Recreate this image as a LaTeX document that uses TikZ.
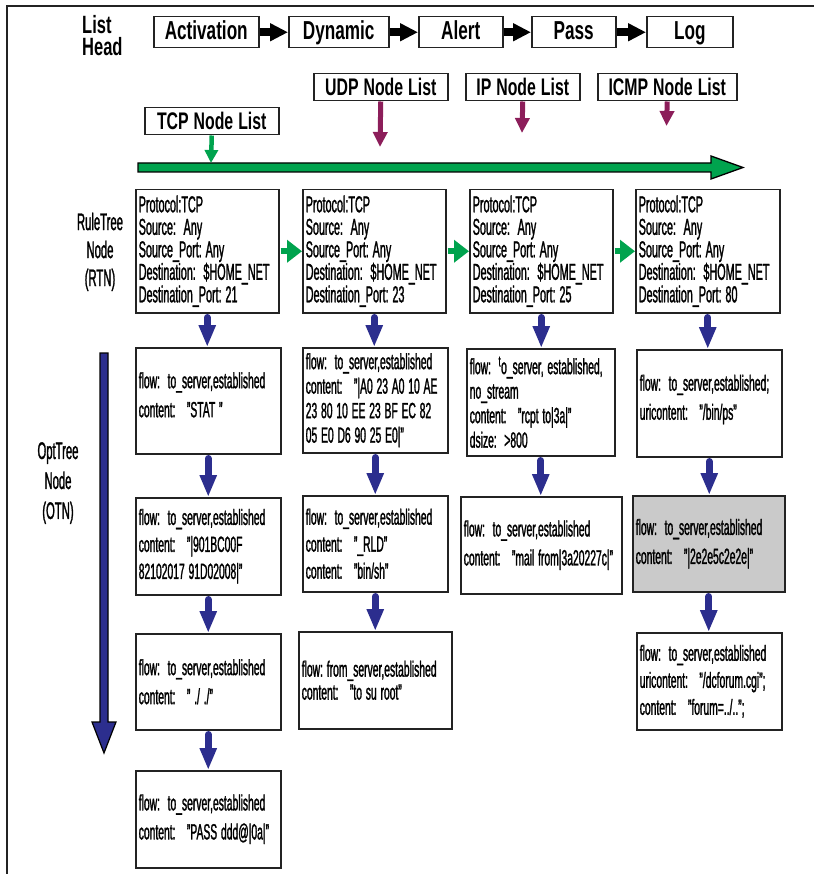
\documentclass[tikz,border=0pt]{standalone}
\usepackage{fontspec}
\setmainfont{Liberation Sans}[FakeStretch=0.47, FakeBold=1.2]
\newfontfamily\headfont{Liberation Sans}[FakeStretch=0.66]
\usetikzlibrary{arrows.meta}
\hyphenpenalty=10000
\exhyphenpenalty=10000
% condensed face with a fixed, narrow word space
\newcommand\rulefont[2]{\fontsize{#1}{#2}\selectfont\frenchspacing
  \fontdimen2\font=3.8pt\fontdimen3\font=0pt\fontdimen4\font=0pt}
\newcommand\keyfont[1]{\headfont\bfseries\fontsize{#1}{#1}\selectfont\frenchspacing
  \fontdimen2\font=5pt\fontdimen3\font=0pt\fontdimen4\font=0pt}
\definecolor{boxline}{RGB}{35,35,35}
\definecolor{rulegreen}{RGB}{0,163,78}
\definecolor{listplum}{RGB}{140,30,90}
\definecolor{treenavy}{RGB}{44,46,142}
\definecolor{hitgray}{RGB}{202,202,202}
\tikzset{
  frameline/.style={draw=boxline, line width=1.6pt},
  keybox/.style={draw=boxline, line width=1.5pt, fill=white, anchor=north west,
    inner sep=0pt, text height=19pt, text depth=4pt, font=\keyfont{26}},
  listbox/.style={draw=boxline, line width=1.5pt, fill=white, anchor=north west,
    inner sep=0pt, text height=17pt, text depth=0pt, font=\keyfont{24}},
  rtn/.style={draw=boxline, line width=1.5pt, fill=white, anchor=north west,
    inner xsep=3pt, inner ysep=0pt, align=flush left, font=\rulefont{23}{22.5}},
  otn/.style={rtn, font=\rulefont{22}{24.5}},
  otntwo/.style={otn, font=\rulefont{22}{29}},
  otnthree/.style={otn, font=\rulefont{22}{27}},
  sidelabel/.style={inner sep=0pt, align=center, anchor=north},
  headword/.style={inner sep=0pt, anchor=base west, font=\keyfont{25}},
  chain/.style={draw=black, line width=8pt, -{Triangle[length=18pt,width=17pt]}},
  feed/.style={draw=listplum, line width=5pt, -{Triangle[length=15pt,width=14pt]}},
  tcpfeed/.style={draw=rulegreen, line width=4.5pt, -{Triangle[length=13pt,width=13pt]}},
  rtnlink/.style={draw=rulegreen, line width=6pt, -{Triangle[length=15pt,width=22pt]}},
  optlink/.style={draw=treenavy, line width=7pt, line cap=round,
    -{Triangle[length=22pt,width=16pt]}},
}
\begin{document}
\begin{tikzpicture}[x=1pt,y=-1pt]
\useasboundingbox (0,0) rectangle (814,874);

% outer frame
\draw[frameline] (7,874) -- (7,6) -- (814,6);

% list head
\node[headword] (lword) at (82,34) {List};
\node[headword] (hword) at (82,56) {Head};
\node[keybox, minimum width=105pt, minimum height=31pt] (act) at (153,16) {Activation};
\node[keybox, minimum width=100pt, minimum height=31pt] (dyn) at (288,16) {Dynamic};
\node[keybox, minimum width=84pt, minimum height=31pt] (alr) at (418,16) {Alert};
\node[keybox, minimum width=84pt, minimum height=31pt] (pas) at (531,16) {Pass};
\node[keybox, minimum width=86pt, minimum height=31pt] (lg) at (646,16) {Log};
\draw[chain] (act.east) -- (dyn.west);
\draw[chain] (dyn.east) -- (alr.west);
\draw[chain] (alr.east) -- (pas.west);
\draw[chain] (pas.east) -- (lg.west);

% protocol node lists
\node[listbox, minimum width=134pt, minimum height=27pt] (udp) at (313,73) {UDP Node List};
\node[listbox, minimum width=114pt, minimum height=27pt] (ipl) at (465,73) {IP Node List};
\node[listbox, minimum width=139pt, minimum height=27pt] (icmp) at (597,73) {ICMP Node List};
\node[listbox, minimum width=134pt, minimum height=27pt] (tcp) at (144,107) {TCP Node List};
\coordinate (udpend) at (380,147);
\coordinate (ipend) at (522,133);
\coordinate (icmpend) at (666.5,126);
\draw[feed] (udp.south) -- (udpend);
\draw[feed] (ipl.south) -- (ipend);
\draw[feed] (icmp.south) -- (icmpend);

% the TCP rule chain
\draw[draw=black, line width=1.3pt, fill=rulegreen]
  (138,163) -- (711,163) -- (711,156) -- (743,167.5) -- (711,179) -- (711,172) -- (138,172) -- cycle;
\coordinate (bus) at (211,163);
\draw[tcpfeed] (tcp.south) -- (bus);

% rule tree nodes
\node[sidelabel, font=\rulefont{24}{28}] (rtnlbl) at (100,212.5) {RuleTree\\Node\\(RTN)};
\node[rtn, minimum width=143pt, text width=137pt, minimum height=123pt] (r1) at (135,189)
  {Protocol:TCP\\Source:\ \ Any\\Source\_Port: Any\\Destination:\ \ \$HOME\_NET\\Destination\_Port: 21};
\node[rtn, minimum width=143pt, text width=137pt, minimum height=123pt] (r2) at (302,189)
  {Protocol:TCP\\Source:\ \ Any\\Source\_Port: Any\\Destination:\ \ \$HOME\_NET\\Destination\_Port: 23};
\node[rtn, minimum width=143pt, text width=137pt, minimum height=123pt] (r3) at (469,189)
  {Protocol:TCP\\Source:\ \ Any\\Source\_Port: Any\\Destination:\ \ \$HOME\_NET\\Destination\_Port: 25};
\node[rtn, minimum width=144pt, text width=138pt, minimum height=123pt] (r4) at (635,189)
  {Protocol:TCP\\Source:\ \ Any\\Source\_Port: Any\\Destination:\ \ \$HOME\_NET\\Destination\_Port: 80};
\draw[rtnlink] ([xshift=1pt]r1.east) -- (r2.west);
\draw[rtnlink] ([xshift=1pt]r2.east) -- (r3.west);
\draw[rtnlink] ([xshift=1pt]r3.east) -- (r4.west);

% option tree nodes
\node[sidelabel, font=\rulefont{24}{30}] (otnlbl) at (58,442) {OptTree\\Node\\(OTN)};
\draw[draw=black, line width=1.2pt, fill=treenavy]
  (100,353) -- (108,353) -- (108,722) -- (116,722) -- (104,753) -- (92,722) -- (100,722) -- cycle;

\node[otntwo, minimum width=145pt, text width=139pt, minimum height=106pt, text depth=41pt] (o11) at (135,347)
  {flow:\ \ to\_server,established\\content:\ \ \ "STAT\ "};
\node[otnthree, minimum width=145pt, text width=139pt, minimum height=97pt] (o12) at (135,497)
  {flow:\ \ to\_server,established\\content:\ \ \ "|901BC00F\\82102017 91D02008|"};
\node[otntwo, minimum width=145pt, text width=139pt, minimum height=96pt] (o13) at (135,633)
  {flow:\ \ to\_server,established\\content:\ \ \ " ./ ./"};
\node[otntwo, minimum width=145pt, text width=139pt, minimum height=97pt] (o14) at (135,770)
  {flow:\ \ to\_server,established\\content:\ \ \ "PASS ddd@|0a|"};

\node[otn, minimum width=145pt, text width=139pt, minimum height=105pt] (o21) at (302,347)
  {flow:\ \ to\_server,established\\content:\ \ \ "|A0 23 A0 10 AE\\23 80 10 EE 23 BF EC 82\\05 E0 D6 90 25 E0|"};
\node[otnthree, minimum width=145pt, text width=139pt, minimum height=96pt] (o22) at (302,495)
  {flow:\ \ to\_server,established\\content:\ \ \ "\_RLD"\\content:\ \ \ "bin/sh"};
\node[otn, minimum width=153pt, text width=147pt, minimum height=97pt, font=\rulefont{22}{23}] (o23) at (298,631)
  {flow: from\_server,established\\content:\ \ \ "to su root"};

\node[otn, minimum width=148pt, text width=142pt, minimum height=107pt] (o31) at (466,348)
  {flow:\ \ \textsuperscript{t}o\_server, established,\\no\_stream\\content:\ \ \ "rcpt to|3a|"\\dsize:\ \ >800};
\node[otntwo, minimum width=161pt, text width=155pt, minimum height=97pt] (o32) at (460,496)
  {flow:\ \ to\_server,established\\content:\ \ \ "mail from|3a20227c|"};

\node[otntwo, minimum width=145pt, text width=139pt, minimum height=107pt, text depth=41pt] (o41) at (636,349)
  {flow:\ \ to\_server,established;\\uricontent:\ \ \ "/bin/ps"};
\node[otntwo, fill=hitgray, minimum width=152pt, text width=146pt, minimum height=96pt] (o42) at (632,495)
  {flow:\ \ to\_server,established\\content:\ \ \ "|2e2e5c2e2e|"};
\node[otnthree, minimum width=145pt, text width=139pt, minimum height=97pt] (o43) at (636,632)
  {flow:\ \ to\_server,established\\uricontent:\ \ \ "/dcforum.cgi";\\content:\ \ \ "forum=../..";};

% option chains
\foreach \a/\b in {r1/o11, o11/o12, o12/o13, o13/o14,
                   r2/o21, o21/o22, o22/o23,
                   r3/o31, o31/o32,
                   r4/o41, o41/o42, o42/o43}
  \draw[optlink] ([yshift=-4pt]\a.south) -- (\a.south |- \b.north);
\end{tikzpicture}
\end{document}
